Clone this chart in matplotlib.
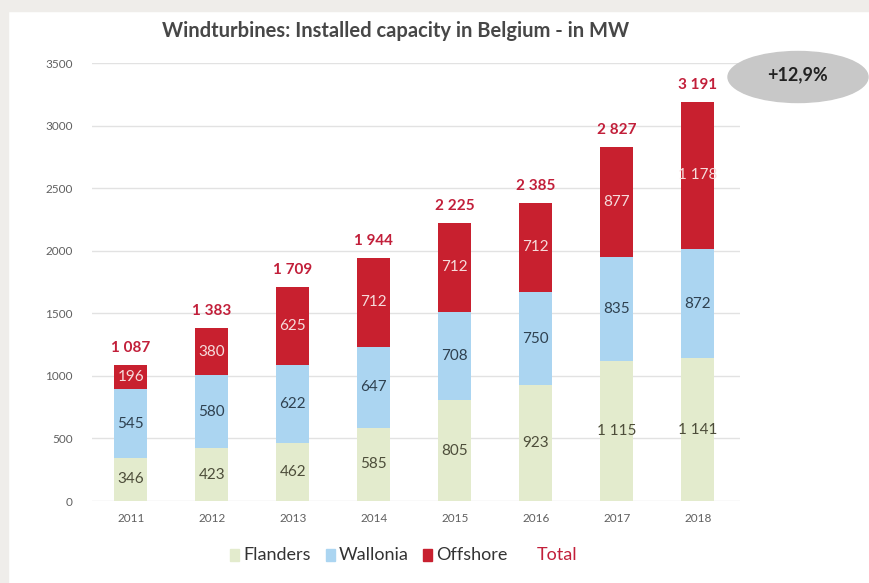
import matplotlib.pyplot as plt
from matplotlib.patches import Ellipse, Rectangle
import numpy as np

years = ['2011', '2012', '2013', '2014', '2015', '2016', '2017', '2018']
flanders = [346, 423, 462, 585, 805, 923, 1115, 1141]
wallonia = [545, 580, 622, 647, 708, 750, 835, 872]
offshore = [196, 380, 625, 712, 712, 712, 877, 1178]
growth_label = '+12,9%'

plt.rcParams['font.family'] = ['Lato', 'DejaVu Sans']

c_fl = '#e3ebcd'
c_wa = '#abd5f1'
c_off = '#c8202f'
c_tot = '#c21f3a'

fig = plt.figure(figsize=(8.69, 5.83), dpi=100)
fig.patch.set_facecolor('white')
# grey frame on left and top
fig.add_artist(Rectangle((0, 0), 8/869, 1, transform=fig.transFigure, color='#efedea', zorder=-5))
fig.add_artist(Rectangle((0, 1 - 11/583), 1, 11/583, transform=fig.transFigure, color='#efedea', zorder=-5))

ax = fig.add_axes([92/869, 82/583, 648/869, 438/583])
x = np.arange(len(years))
fl = np.array(flanders)
wa = np.array(wallonia)
off = np.array(offshore)
total = fl + wa + off
w = 0.41

ax.bar(x, fl, w, color=c_fl, zorder=2)
ax.bar(x, wa, w, bottom=fl, color=c_wa, zorder=2)
ax.bar(x, off, w, bottom=fl + wa, color=c_off, zorder=2)

def fmt(v):
    return f'{v:,}'.replace(',', ' ')

for i in range(len(years)):
    ax.text(x[i], fl[i] / 2, fmt(fl[i]), ha='center', va='center', fontsize=11, color='#4d4d3a', zorder=3)
    ax.text(x[i], fl[i] + wa[i] / 2, fmt(wa[i]), ha='center', va='center', fontsize=11, color='#2f4150', zorder=3)
    ax.text(x[i], fl[i] + wa[i] + off[i] / 2, fmt(off[i]), ha='center', va='center', fontsize=11, color='#f6dcdc', zorder=3)
    ax.text(x[i], total[i] + 80, fmt(total[i]), ha='center', va='bottom', fontsize=11, color=c_tot, fontweight='bold', zorder=3)

ax.set_xlim(-0.48, 7.52)
ax.set_ylim(0, 3500)
ax.set_yticks(np.arange(0, 3501, 500))
ax.set_xticks(x)
ax.set_xticklabels(years)
ax.tick_params(axis='both', length=0, labelsize=8.5, labelcolor='#606060')
ax.tick_params(axis='y', pad=14)
ax.tick_params(axis='x', pad=9)
ax.grid(axis='y', color='#e2e2e2', linewidth=1, zorder=0)
for s in ax.spines.values():
    s.set_visible(False)
ax.set_facecolor('none')

fig.text(396/869, 1 - 31/583, 'Windturbines: Installed capacity in Belgium - in MW',
         ha='center', va='center', fontsize=14.5, fontweight='bold', color='#474747')

# growth ellipse
fig.add_artist(Ellipse((798/869, 1 - 77/583), 140/869, 51/583, transform=fig.transFigure,
                       color='#c8c8c8', zorder=1))
fig.text(798/869, 1 - 75/583, growth_label, ha='center', va='center', fontsize=13,
         fontweight='bold', color='#222222', zorder=2)

# legend
ly = 1 - 555/583
items = [('Flanders', c_fl, 230), ('Wallonia', c_wa, 326), ('Offshore', c_off, 423)]
for name, col, px in items:
    fig.add_artist(Rectangle((px/869, ly - 6/583), 9/869, 12/583, transform=fig.transFigure, color=col))
    fig.text((px + 13)/869, ly, name, ha='left', va='center', fontsize=13, color='#333333')
fig.text(537/869, ly, 'Total', ha='left', va='center', fontsize=13, color=c_tot)

fig.savefig('out.png', dpi=100)
